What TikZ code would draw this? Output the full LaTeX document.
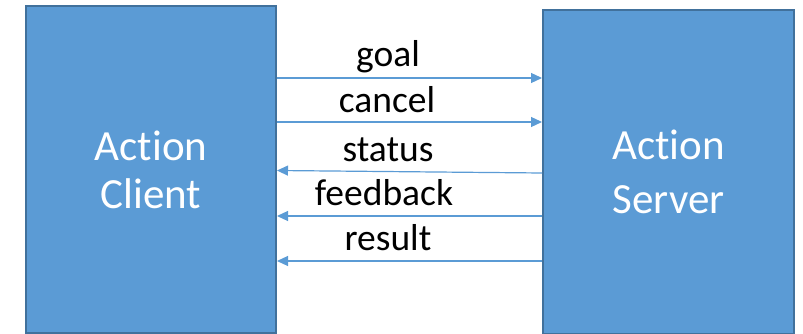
\documentclass[tikz,border=0pt]{standalone}
\usepackage{fontspec}
\setmainfont{Carlito}[Ligatures=NoCommon]
\usetikzlibrary{arrows.meta}
\definecolor{boxfill}{HTML}{5B9BD5}
\definecolor{boxline}{HTML}{41719C}
\definecolor{arrowcol}{HTML}{5B9BD5}
\tikzset{
  actor/.style={draw=boxline, fill=boxfill, line width=2pt, inner sep=0pt,
    text=white, align=center},
  msg/.style={draw=arrowcol, line width=1.2pt,
    -{Triangle[length=11pt,width=10pt]}},
  lbl/.style={anchor=base, inner sep=0pt, text=black,
    font=\fontsize{37.5}{40}\selectfont}
}
\begin{document}
\begin{tikzpicture}[x=1pt,y=-1pt]
  \useasboundingbox (0,0) rectangle (803,334);
  % the two endpoints
  \node[actor, minimum width=250pt, minimum height=327pt,
        font=\fontsize{43}{48}\selectfont] (client) at (151,169.5) {Action\\Client};
  \node[actor, minimum width=251pt, minimum height=324pt,
        font=\fontsize{43}{54}\selectfont] (server) at (668.5,172) {Action\\Server};
  % client -> server messages
  \draw[msg] (client.east |- 0,78)  -- (server.west |- 0,78);
  \draw[msg] (client.east |- 0,122) -- (server.west |- 0,122);
  % server -> client messages
  \coordinate (st) at (server.west |- 0,173);
  \draw[msg] (st) -- (client.east |- 0,170.5);
  \draw[msg] (server.west |- 0,216) -- (client.east |- 0,216);
  \draw[msg] (server.west |- 0,261) -- (client.east |- 0,261);
  % message names
  \node[lbl] (goal)     at (388,67)    {goal};
  \node[lbl] (cancel)   at (387,112.7) {cancel};
  \node[lbl] (status)   at (388,161.7) {status};
  \node[lbl] (feedback) at (384,205)   {feedback};
  \node[lbl] (result)   at (388,250)   {result};
\end{tikzpicture}
\end{document}
